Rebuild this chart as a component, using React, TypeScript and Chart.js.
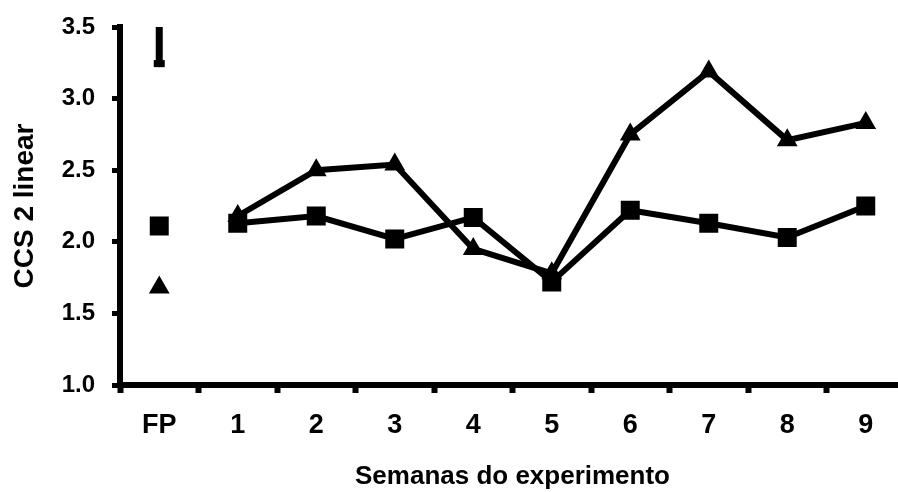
import React, { useEffect, useRef } from 'react';
import { Chart, registerables } from 'chart.js';

Chart.register(...registerables);

const categories = ['FP', '1', '2', '3', '4', '5', '6', '7', '8', '9'];
const squareSeries = [2.11, 2.13, 2.18, 2.02, 2.17, 1.72, 2.22, 2.13, 2.03, 2.25];
const triangleSeries = [1.68, 2.18, 2.5, 2.54, 1.95, 1.78, 2.75, 3.19, 2.71, 2.83];
const yTickValues = [1.0, 1.5, 2.0, 2.5, 3.0, 3.5];
const errorBarCategory = ['FP'];
const errorBarTop = [3.5];
const errorBarBottom = [3.22];

const FONT = "'Liberation Sans', Arial, Helvetica, sans-serif";

const errorBarPlugin = {
  id: 'fpErrorBar',
  afterDatasetsDraw(chart: any) {
    const { ctx, scales } = chart;
    const xs = scales.x;
    const ys = scales.y;
    ctx.save();
    ctx.fillStyle = '#000';
    errorBarCategory.forEach((cat, i) => {
      const idx = categories.indexOf(cat);
      const x = xs.getPixelForValue(idx);
      const yTop = ys.getPixelForValue(errorBarTop[i]);
      const yBot = ys.getPixelForValue(errorBarBottom[i]);
      ctx.fillRect(x - 3.5, yTop, 7, yBot - yTop);
      ctx.fillRect(x - 5.5, yBot - 7, 11, 7);
    });
    ctx.restore();
  },
};

const hideFirstSegment = (ctx: any) => (ctx.p0DataIndex === 0 ? 'rgba(0,0,0,0)' : '#000');

export default function App() {
  const ref = useRef<HTMLCanvasElement>(null);
  useEffect(() => {
    const chart = new Chart(ref.current as HTMLCanvasElement, {
      type: 'line',
      data: {
        labels: categories,
        datasets: [
          {
            label: 'Quadrado',
            data: squareSeries,
            borderColor: '#000',
            backgroundColor: '#000',
            borderWidth: 6,
            borderJoinStyle: 'miter',
            pointStyle: 'rect',
            pointRadius: 12,
            pointBorderWidth: 2,
            pointBackgroundColor: '#000',
            pointBorderColor: '#000',
            tension: 0,
            segment: { borderColor: hideFirstSegment },
          },
          {
            label: 'Triângulo',
            data: triangleSeries,
            borderColor: '#000',
            backgroundColor: '#000',
            borderWidth: 6,
            borderJoinStyle: 'miter',
            pointStyle: 'triangle',
            pointRadius: 10,
            pointBorderWidth: 2,
            pointBackgroundColor: '#000',
            pointBorderColor: '#000',
            tension: 0,
            segment: { borderColor: hideFirstSegment },
          },
        ],
      },
      options: {
        animation: false,
        responsive: true,
        maintainAspectRatio: false,
        devicePixelRatio: 1,
        layout: { padding: { top: 27, left: 0, right: 0, bottom: 0 } },
        plugins: {
          legend: { display: false },
          tooltip: { enabled: false },
        },
        scales: {
          x: {
            type: 'category',
            offset: true,
            grid: {
              offset: true,
              drawOnChartArea: false,
              drawTicks: true,
              tickLength: 8,
              tickWidth: 6,
              tickColor: '#000',
              color: '#000',
            },
            border: { display: true, width: 6, color: '#000' },
            ticks: {
              color: '#000',
              padding: 0,
              maxRotation: 0,
              autoSkip: false,
              font: { family: FONT, size: 27, weight: 'bold', lineHeight: 2.44 },
            },
            title: {
              display: true,
              text: 'Semanas do experimento',
              color: '#000',
              padding: { top: 0, bottom: 0 },
              font: { family: FONT, size: 26, weight: 'bold' },
            },
            afterFit(scale: any) {
              scale.height = 107;
            },
          },
          y: {
            type: 'linear',
            min: 1,
            max: 3.5,
            afterBuildTicks(scale: any) {
              scale.ticks = yTickValues.map((v) => ({ value: v }));
            },
            grid: {
              drawOnChartArea: false,
              drawTicks: true,
              tickLength: 8,
              tickWidth: 5,
              tickColor: '#000',
              color: '#000',
            },
            border: { display: true, width: 6, color: '#000' },
            ticks: {
              color: '#000',
              padding: 17,
              font: { family: FONT, size: 24, weight: 'bold', lineHeight: 0.8 },
              callback: (v: any) => Number(v).toFixed(1),
            },
            title: {
              display: true,
              text: 'CCS 2 linear',
              color: '#000',
              padding: { top: 8, bottom: 0 },
              font: { family: FONT, size: 28, weight: 'bold' },
            },
            afterFit(scale: any) {
              scale.width = 120;
            },
          },
        },
      },
      plugins: [errorBarPlugin],
    } as any);
    return () => chart.destroy();
  }, []);
  return (
    <div
      style={{
        position: 'absolute',
        left: 0,
        top: 0,
        width: 898,
        height: 492,
        overflow: 'hidden',
        background: '#fff',
      }}
    >
      <div style={{ position: 'relative', width: 919, height: 492 }}>
        <canvas ref={ref} />
      </div>
    </div>
  );
}
